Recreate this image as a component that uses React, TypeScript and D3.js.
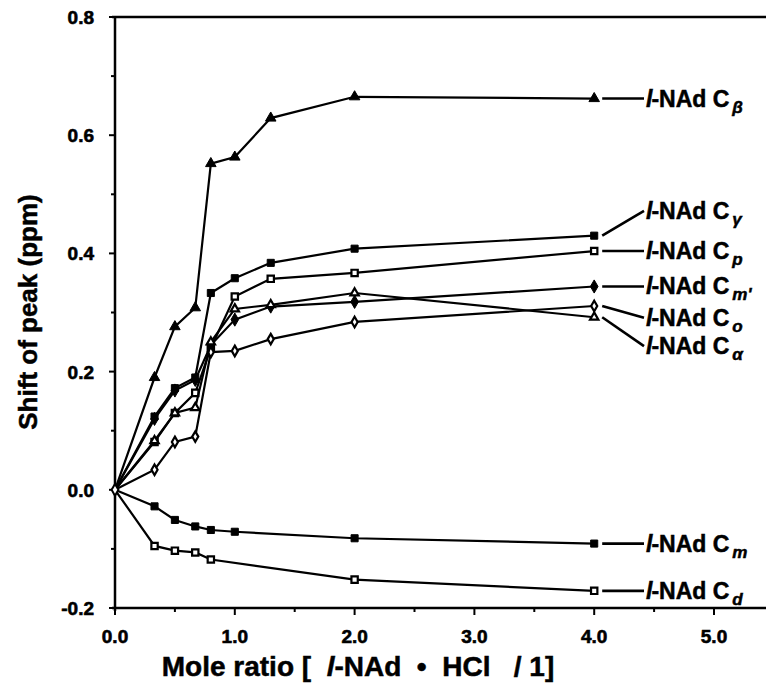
import React, { useRef, useEffect } from 'react';
import * as d3 from 'd3';

// mole ratios where the shifts were measured
const ratios = [0, 0.33, 0.5, 0.67, 0.8, 1.0, 1.3, 2.0, 4.0];
const ratiosM = [0, 0.33, 0.5, 0.67, 0.8, 1.0, 2.0, 4.0];
const ratiosD = [0, 0.33, 0.5, 0.67, 0.8, 2.0, 4.0];

// shift of peak (ppm)
const shiftBeta = [0, 0.19, 0.276, 0.308, 0.552, 0.563, 0.629, 0.665, 0.662];
const shiftGamma = [0, 0.124, 0.172, 0.19, 0.333, 0.358, 0.384, 0.408, 0.43];
const shiftP = [0, 0.081, 0.13, 0.164, 0.24, 0.327, 0.357, 0.367, 0.404];
const shiftMp = [0, 0.12, 0.168, 0.186, 0.245, 0.288, 0.31, 0.318, 0.344];
const shiftO = [0, 0.034, 0.081, 0.09, 0.233, 0.235, 0.255, 0.284, 0.311];
const shiftAlpha = [0, 0.083, 0.13, 0.139, 0.25, 0.306, 0.313, 0.333, 0.292];
const shiftM = [0, -0.028, -0.051, -0.062, -0.068, -0.071, -0.082, -0.091];
const shiftD = [0, -0.095, -0.103, -0.106, -0.118, -0.152, -0.171];

const xTicks = [0, 1, 2, 3, 4, 5];
const yTicks = [-0.2, 0, 0.2, 0.4, 0.6, 0.8];

type Marker = 'triF' | 'triO' | 'sqF' | 'sqO' | 'diaF' | 'diaO';

interface Series {
    sub: string;
    xs: number[];
    ys: number[];
    marker: Marker;
    labelY: number; // where the label sits, in ppm
}

const series: Series[] = [
    { sub: 'β', xs: ratios, ys: shiftBeta, marker: 'triF', labelY: 0.662 },
    { sub: 'γ', xs: ratios, ys: shiftGamma, marker: 'sqF', labelY: 0.472 },
    { sub: 'p', xs: ratios, ys: shiftP, marker: 'sqO', labelY: 0.404 },
    { sub: "m'", xs: ratios, ys: shiftMp, marker: 'diaF', labelY: 0.344 },
    { sub: 'o', xs: ratios, ys: shiftO, marker: 'diaO', labelY: 0.291 },
    { sub: 'α', xs: ratios, ys: shiftAlpha, marker: 'triO', labelY: 0.243 },
    { sub: 'm', xs: ratiosM, ys: shiftM, marker: 'sqF', labelY: -0.091 },
    { sub: 'd', xs: ratiosD, ys: shiftD, marker: 'sqO', labelY: -0.171 },
];

const FONT = '"Liberation Sans", Arial, sans-serif';

const Chart: React.FC = () => {
    const ref = useRef<SVGSVGElement>(null);

    useEffect(() => {
        const svg = d3.select(ref.current);
        svg.selectAll('*').remove();

        const x = d3.scaleLinear().domain([0, 5]).range([115, 714]);
        const y = d3.scaleLinear().domain([-0.2, 0.8]).range([608, 17]);
        const left = x(0);
        const right = 766;

        const g = svg.append('g');

        // frame: left axis, bottom axis, top line
        g.append('line').attr('x1', left).attr('x2', left).attr('y1', y(0.8)).attr('y2', y(-0.2) + 3)
            .attr('stroke', '#000').attr('stroke-width', 2.5);
        g.append('line').attr('x1', left - 3).attr('x2', right).attr('y1', y(-0.2)).attr('y2', y(-0.2))
            .attr('stroke', '#000').attr('stroke-width', 2.5);
        g.append('line').attr('x1', left - 3).attr('x2', right).attr('y1', y(0.8)).attr('y2', y(0.8))
            .attr('stroke', '#000').attr('stroke-width', 2.5);

        // y ticks
        const yMinor = d3.range(-0.2, 0.81, 0.1);
        g.selectAll('.ytick').data(yMinor).enter().append('line')
            .attr('x1', left)
            .attr('x2', (_d, i) => left - (i % 2 === 0 ? 6 : 4))
            .attr('y1', d => y(d)).attr('y2', d => y(d))
            .attr('stroke', '#000').attr('stroke-width', 2);
        g.selectAll('.ylab').data(yTicks).enter().append('text')
            .attr('x', left - 21).attr('y', d => y(d) + 7)
            .attr('text-anchor', 'end')
            .style('font-family', FONT).style('font-weight', 'bold').style('font-size', '19px')
            .attr('stroke', '#000').attr('stroke-width', 0.6)
            .text(d => d.toFixed(1));

        // x ticks
        const xMinor = d3.range(0, 5.01, 0.5);
        g.selectAll('.xtick').data(xMinor).enter().append('line')
            .attr('x1', d => x(d)).attr('x2', d => x(d))
            .attr('y1', y(-0.2)).attr('y2', (_d, i) => y(-0.2) + (i % 2 === 0 ? 7 : 4))
            .attr('stroke', '#000').attr('stroke-width', 2);
        g.selectAll('.xlab').data(xTicks).enter().append('text')
            .attr('x', d => x(d)).attr('y', 643)
            .attr('text-anchor', 'middle')
            .style('font-family', FONT).style('font-weight', 'bold').style('font-size', '19px')
            .attr('stroke', '#000').attr('stroke-width', 0.6)
            .text(d => d.toFixed(1));

        // axis titles
        const xt = svg.append('text')
            .attr('x', 358).attr('y', 676)
            .attr('text-anchor', 'middle')
            .style('font-family', FONT).style('font-weight', 'bold').style('font-size', '28px')
            .style('white-space', 'pre')
            .attr('stroke', '#000').attr('stroke-width', 0.5);
        xt.append('tspan').text('Mole ratio [  ');
        xt.append('tspan').style('font-style', 'italic').text('l');
        xt.append('tspan').text('-NAd  •  HCl   / 1]');

        svg.append('text')
            .attr('transform', 'translate(37,312) rotate(-90)')
            .attr('text-anchor', 'middle')
            .style('font-family', FONT).style('font-weight', 'bold').style('font-size', '26px')
            .attr('stroke', '#000').attr('stroke-width', 0.5)
            .text('Shift of peak (ppm)');

        const line = d3.line<[number, number]>()
            .x(d => x(d[0]))
            .y(d => y(d[1]));

        const sym = (m: Marker) => {
            const filled = m.endsWith('F');
            if (m.startsWith('tri')) return d3.symbol().type(d3.symbolTriangle).size(filled ? 48 : 30)();
            if (m.startsWith('sq')) return d3.symbol().type(d3.symbolSquare).size(filled ? 50 : 40)();
            return d3.symbol().type(d3.symbolDiamond).size(filled ? 50 : 32)();
        };

        series.forEach(s => {
            const pts: [number, number][] = s.xs.map((v, i) => [v, s.ys[i]]);
            g.append('path')
                .attr('d', line(pts)!)
                .attr('fill', 'none')
                .attr('stroke', '#000')
                .attr('stroke-width', 2.2);

            const filled = s.marker.endsWith('F');
            g.selectAll(null).data(pts.slice(1)).enter().append('path')
                .attr('d', sym(s.marker))
                .attr('transform', d => `translate(${x(d[0])},${y(d[1])})`)
                .attr('fill', filled ? '#000' : '#fff')
                .attr('stroke', '#000')
                .attr('stroke-width', filled ? 1 : 2.2);

            // leader and label
            const last = pts[pts.length - 1];
            const lx = x(last[0]) + 8;
            const ly = y(last[1]);
            const ty = y(s.labelY);
            g.append('line')
                .attr('x1', lx).attr('y1', ly)
                .attr('x2', 644).attr('y2', ty)
                .attr('stroke', '#000').attr('stroke-width', 2.6);

            const t = g.append('text')
                .attr('x', 646).attr('y', ty + 8)
                .style('font-family', FONT).style('font-weight', 'bold').style('font-size', '23px')
                .attr('stroke', '#000').attr('stroke-width', 0.5);
            t.append('tspan').style('font-style', 'italic').text('l');
            t.append('tspan').attr('dx', -1).text('-NAd C');
            t.append('tspan')
                .attr('dx', 3).attr('dy', 6)
                .style('font-style', 'italic').style('font-size', '17px')
                .text(s.sub);
        });

        // origin marker
        g.append('path')
            .attr('d', d3.symbol().type(d3.symbolDiamond).size(40)()!)
            .attr('transform', `translate(${x(0)},${y(0)})`)
            .attr('fill', '#fff').attr('stroke', '#000').attr('stroke-width', 2);
    }, []);

    return (
        <svg ref={ref} width={766} height={697}
            style={{ position: 'absolute', left: 0, top: 0, background: '#fff' }} />
    );
};

export default function App() {
    return <Chart />;
}
